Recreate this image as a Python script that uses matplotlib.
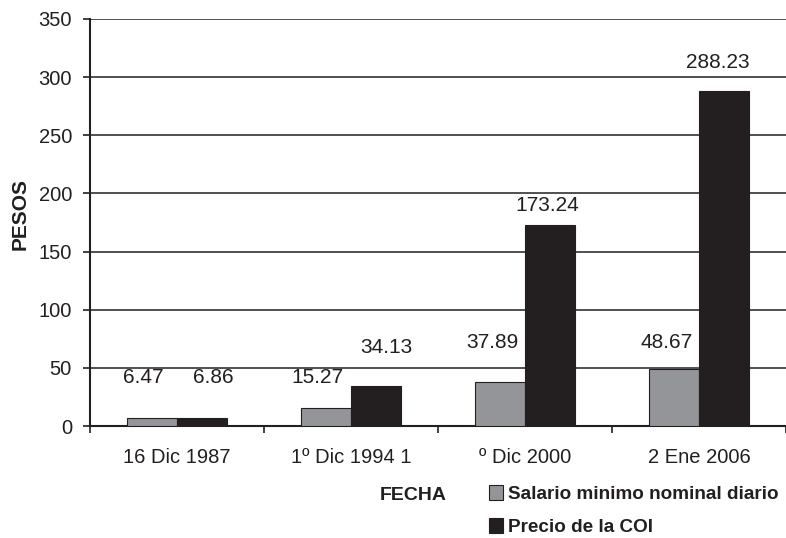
import numpy as np
import matplotlib.pyplot as plt
from matplotlib.patches import Patch

plt.rcParams['font.family'] = ['Liberation Sans', 'DejaVu Sans']

# datos
fechas = ['16 Dic 1987', '1º Dic 1994 1', 'º Dic 2000', '2 Ene 2006']
salario = [6.47, 15.27, 37.89, 48.67]
precio_coi = [6.86, 34.13, 173.24, 288.23]

# posiciones de las etiquetas de valor (x, y en unidades de datos)
sal_lab_x = [-0.195, 0.805, 1.810, 2.816]
sal_lab_y = [41.3, 41.3, 72.2, 72.2]
coi_lab_x = [0.207, 1.201, 2.126, 3.109]
coi_lab_y = [41.3, 67.1, 190, 313]

txt = '#231f20'
gris = '#949598'

fig = plt.figure(figsize=(7.86, 5.38), dpi=100)
ax = fig.add_axes([90 / 786, 1 - 426 / 538, 696 / 786, 407 / 538])

x = np.arange(len(fechas))
w = 0.288
ax.bar(x - w / 2, salario, w, color=gris, edgecolor=txt, linewidth=0.8, zorder=3)
ax.bar(x + w / 2, precio_coi, w, color=txt, edgecolor=txt, linewidth=0.8, zorder=3)

for lx, ly, v in zip(sal_lab_x, sal_lab_y, salario):
    ax.text(lx, ly, f'{v:.2f}', ha='center', va='center', fontsize=15, color=txt)
for lx, ly, v in zip(coi_lab_x, coi_lab_y, precio_coi):
    ax.text(lx, ly, f'{v:.2f}', ha='center', va='center', fontsize=15, color=txt)

ax.set_xlim(-0.5, 3.5)
ax.set_ylim(0, 350)
ax.set_yticks(range(0, 351, 50))
ax.yaxis.grid(True, color=txt, linewidth=1.1, zorder=0)
ax.set_axisbelow(True)

# marcas en los limites de grupo, etiquetas en el centro
ax.set_xticks(np.arange(-0.5, 3.6, 1.0))
ax.set_xticklabels([])
ax.set_xticks(x, minor=True)
ax.set_xticklabels(fechas, minor=True)
ax.tick_params(axis='x', which='major', direction='out', length=5, width=1.2, color=txt)
ax.tick_params(axis='x', which='minor', length=0, pad=16, labelsize=14.5, labelcolor=txt)
ax.tick_params(axis='y', direction='out', length=5, width=1.2, color=txt, pad=8,
               labelsize=14.5, labelcolor=txt)

for s in ['top', 'right']:
    ax.spines[s].set_visible(False)
for s in ['left', 'bottom']:
    ax.spines[s].set_linewidth(1.5)
    ax.spines[s].set_color(txt)

fig.text(20 / 786, 1 - 214 / 538, 'PESOS', rotation=90, ha='center', va='center',
         fontsize=15, fontweight='bold', color=txt)
fig.text(413 / 786, 1 - 495 / 538, 'FECHA', ha='center', va='center',
         fontsize=14, fontweight='bold', color=txt)

handles = [Patch(facecolor=gris, edgecolor=txt, linewidth=0.8),
           Patch(facecolor=txt, edgecolor=txt, linewidth=0.8)]
leg = fig.legend(handles, ['Salario minimo nominal diario', 'Precio de la COI'],
                 loc='upper left', bbox_to_anchor=(489 / 786, 1 - 485 / 538),
                 frameon=False, borderpad=0, borderaxespad=0,
                 handlelength=0.75, handleheight=0.85, handletextpad=0.25,
                 labelspacing=0.78, prop={'size': 13.6, 'weight': 'bold'})
for t in leg.get_texts():
    t.set_color(txt)

fig.savefig('out.png', dpi=100)
